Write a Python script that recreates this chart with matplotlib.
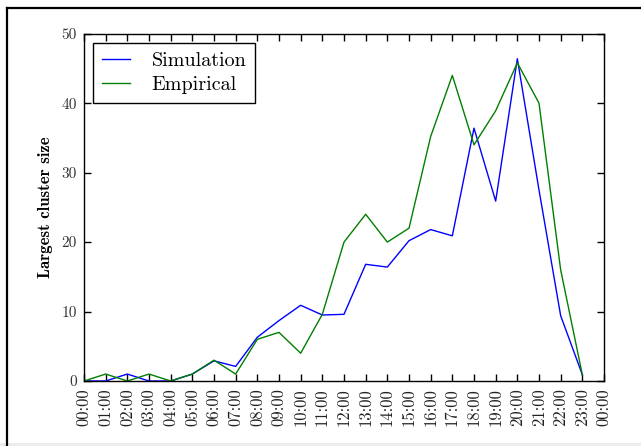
import matplotlib
matplotlib.use('Agg')
import matplotlib.pyplot as plt
from matplotlib.lines import Line2D
from matplotlib.patches import Rectangle

# ---- data ----
hour_labels = ["00:00", "01:00", "02:00", "03:00", "04:00", "05:00", "06:00",
               "07:00", "08:00", "09:00", "10:00", "11:00", "12:00", "13:00",
               "14:00", "15:00", "16:00", "17:00", "18:00", "19:00", "20:00",
               "21:00", "22:00", "23:00", "00:00"]
hours = list(range(24))
simulation = [0, 0, 1, 0, 0, 1, 2.9, 2.1, 6.3, 8.7, 10.9, 9.5, 9.6, 16.8,
              16.4, 20.2, 21.8, 20.9, 36.4, 25.9, 46.4, 27.5, 9.4, 0.9]
empirical = [0, 1, 0, 1, 0, 1, 3, 1, 6, 7, 4, 9.6, 20, 24,
             20, 22, 35.2, 44, 34, 38.9, 45.8, 40, 16, 0.9]
yticks = [0, 10, 20, 30, 40, 50]

plt.rcParams['font.family'] = ['cmr10', 'DejaVu Serif']
plt.rcParams['axes.formatter.use_mathtext'] = True

W, H = 641, 446
fig = plt.figure(figsize=(W / 100, H / 100), dpi=100)
ax = fig.add_axes([84 / W, 1 - 381 / H, (604 - 84) / W, (381 - 33.7) / H])

ax.plot(hours, simulation, color=(0, 0, 1), lw=1.0, label='Simulation')
ax.plot(hours, empirical, color=(0, 0.5, 0), lw=1.0, label='Empirical')

ax.set_xlim(0, 24)
ax.set_ylim(0, 50)
ax.set_xticks(range(25))
ax.set_xticklabels(hour_labels, rotation=90, fontsize=12)
ax.set_yticks(yticks)
ax.set_yticklabels([str(v) for v in yticks], fontsize=11, color='#333333')
for lab in ax.get_xticklabels():
    lab.set_color('#222222')
ax.tick_params(direction='in', top=True, right=True, length=5, width=1, pad=5)
for s in ax.spines.values():
    s.set_linewidth(1.0)

ax.set_ylabel('Largest cluster size', fontsize=12, family=['cmb10', 'DejaVu Serif'], labelpad=6)

leg = ax.legend(loc='upper left', fontsize=14.5, frameon=True, fancybox=False,
                edgecolor='black', borderaxespad=0.45, handlelength=1.4,
                handletextpad=1.05, borderpad=0.45, labelspacing=0.28)
leg.get_frame().set_linewidth(1.0)
leg.get_frame().set_alpha(1)

# outer frame (cropped screenshot border)
fig.add_artist(Line2D([6.5 / W, 6.5 / W], [0, 1 - 7.5 / H], transform=fig.transFigure,
                      color='black', lw=1.6))
fig.add_artist(Line2D([6.5 / W, 1], [1 - 7.5 / H, 1 - 7.5 / H], transform=fig.transFigure,
                      color='black', lw=1.6))
fig.add_artist(Rectangle((0, 0), 1, 3 / H, transform=fig.transFigure,
                         facecolor='#ececec', edgecolor='none'))

fig.savefig('out.png', dpi=100)
